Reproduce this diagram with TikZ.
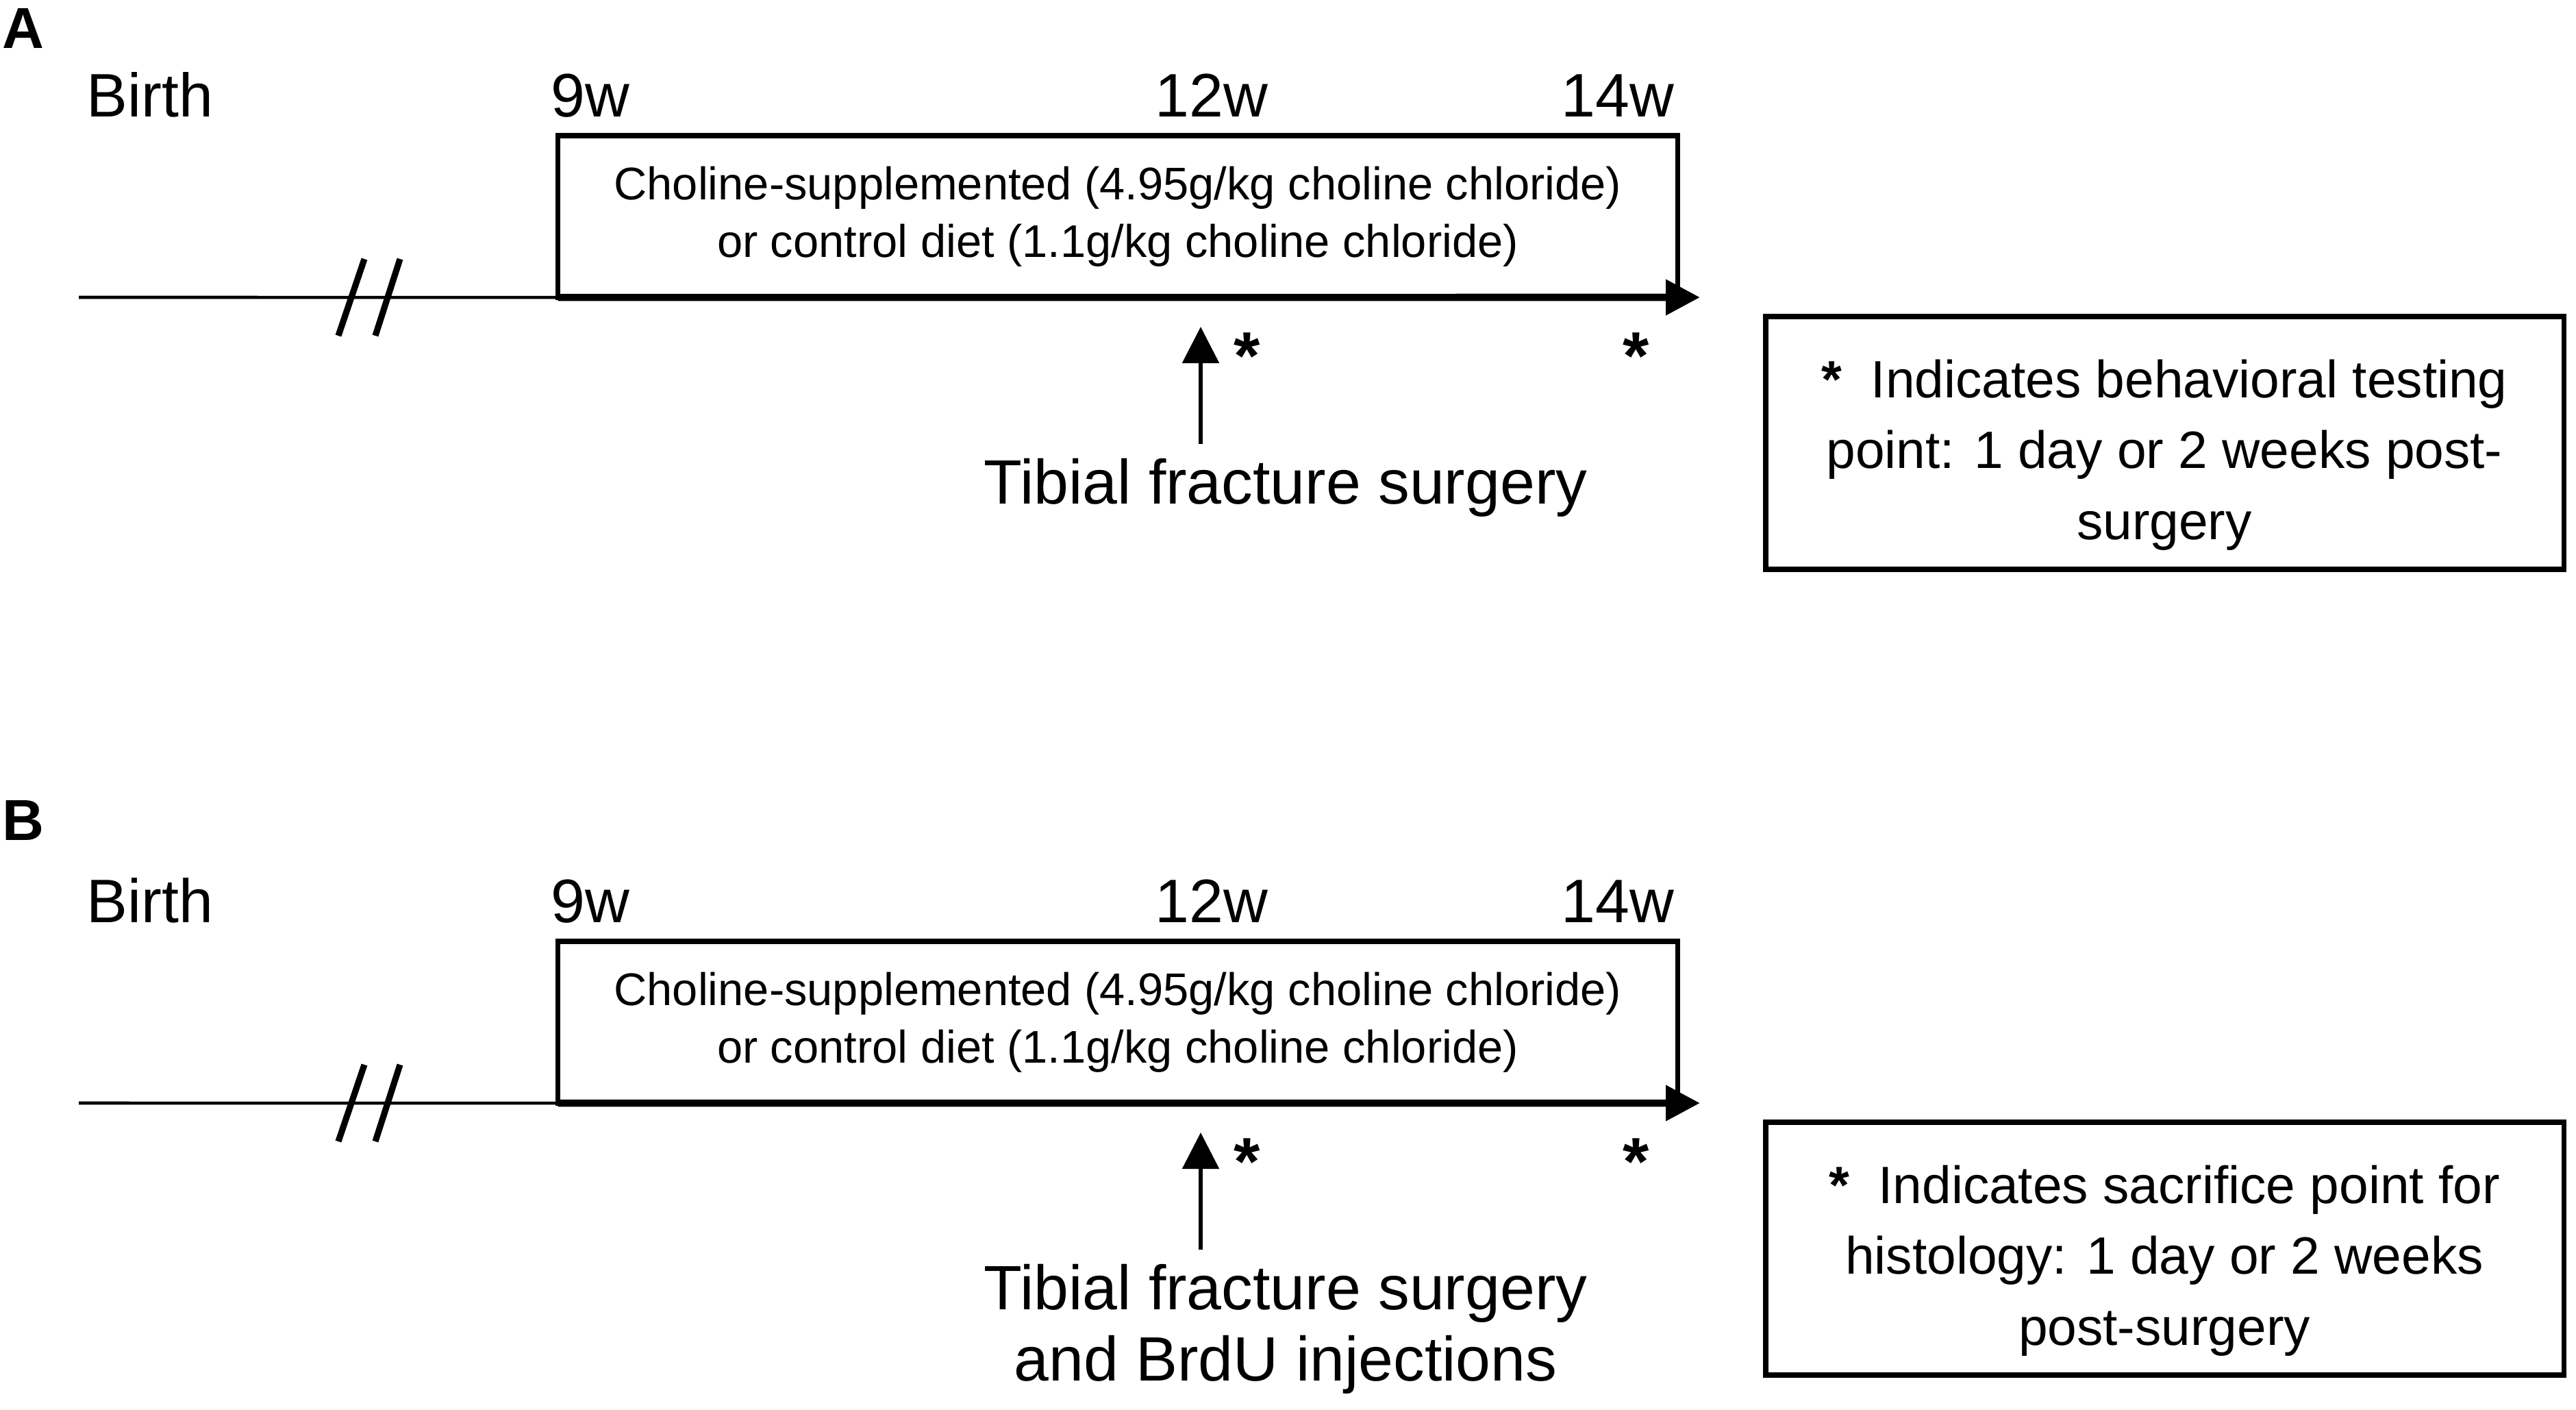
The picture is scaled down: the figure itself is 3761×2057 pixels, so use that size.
\documentclass[tikz,border=0pt]{standalone}
\usepackage{fontspec}
\setmainfont{Liberation Sans}
\usetikzlibrary{arrows.meta}
\begin{document}
\begin{tikzpicture}[x=0.01cm,y=-0.01cm,
  lbl/.style={anchor=base west, inner sep=0pt, font=\fontsize{25.5}{30}\selectfont},
  panel/.style={anchor=base west, inner sep=0pt, font=\fontsize{24}{28}\selectfont\bfseries},
  dietbox/.style={draw, line width=2.2pt, minimum width=16.34cm, minimum height=2.36cm, inner sep=0pt, outer sep=0pt, align=center, font=\fontsize{19}{23.9}\selectfont},
  legbox/.style={draw, line width=2.2pt, minimum width=11.65cm, minimum height=3.69cm, inner sep=0pt, outer sep=0pt},
  legtxt/.style={align=center, inner sep=0pt, font=\fontsize{21.8}{29.5}\selectfont},
  star/.style={anchor=north, inner sep=0pt, font=\fontsize{28}{30}\selectfont\bfseries},
  thinline/.style={line width=1.3pt},
  mainarrow/.style={line width=3pt, -{Triangle[length=0.5cm,width=0.5cm]}},
  uparrow/.style={line width=1.6pt, -{Triangle[length=0.53cm,width=0.53cm]}},
  slash/.style={line width=2.6pt},
  surg/.style={anchor=north, align=center, inner sep=0pt, font=\fontsize{26}{29.4}\selectfont}
]
\useasboundingbox (0,0) rectangle (3761,2057);

% ---------------- Panel A ----------------
\node[panel] (pA) at (3,70) {A};
\node[lbl] (birthA) at (126,170) {Birth};
\node[lbl] (w9A) at (804,170) {9w};
\node[lbl] (w12A) at (1686,170) {12w};
\node[lbl] (w14A) at (2279,170) {14w};
\node[dietbox] (dietA) at (1632,316) {Choline-supplemented (4.95g/kg choline chloride)\\or control diet (1.1g/kg choline chloride)};
\coordinate (startA) at (115,434);
\coordinate (endA) at (2482,434);
\draw[thinline] (startA) -- (dietA.south west);
\draw[mainarrow] (dietA.south west) -- (endA);
\draw[slash] (494,490) -- (532,378);
\draw[slash] (548,490) -- (584,378);
\node[star] (s1A) at (1821,485) {*};
\node[star] (s2A) at (2389,485) {*};
\node[surg] (surgA) at (1877,669) {Tibial fracture surgery};
\coordinate (footA) at (1753,648);
\coordinate (tipA) at (1753,477);
\draw[uparrow] (footA) -- (tipA);
\node[legbox] (legA) at (3160.5,646.5) {};
\node[legtxt] (legAtxt) at (3160,664) {\textbf{*}\ \ Indicates behavioral testing\\point: 1 day or 2 weeks post-\\surgery};

% ---------------- Panel B ----------------
\node[panel] (pB) at (3,1226) {B};
\node[lbl] (birthB) at (126,1346) {Birth};
\node[lbl] (w9B) at (804,1346) {9w};
\node[lbl] (w12B) at (1686,1346) {12w};
\node[lbl] (w14B) at (2279,1346) {14w};
\node[dietbox] (dietB) at (1632,1492) {Choline-supplemented (4.95g/kg choline chloride)\\or control diet (1.1g/kg choline chloride)};
\coordinate (startB) at (115,1610);
\coordinate (endB) at (2482,1610);
\draw[thinline] (startB) -- (dietB.south west);
\draw[mainarrow] (dietB.south west) -- (endB);
\draw[slash] (494,1666) -- (532,1554);
\draw[slash] (548,1666) -- (584,1554);
\node[star] (s1B) at (1821,1661) {*};
\node[star] (s2B) at (2389,1661) {*};
\node[surg] (surgB) at (1877,1845) {Tibial fracture surgery\\and BrdU injections};
\coordinate (footB) at (1753,1824);
\coordinate (tipB) at (1753,1653);
\draw[uparrow] (footB) -- (tipB);
\node[legbox] (legB) at (3160.5,1822.5) {};
\node[legtxt] (legBtxt) at (3160,1840) {\textbf{*}\ \ Indicates sacrifice point for\\histology: 1 day or 2 weeks\\post-surgery};
\end{tikzpicture}
\end{document}
